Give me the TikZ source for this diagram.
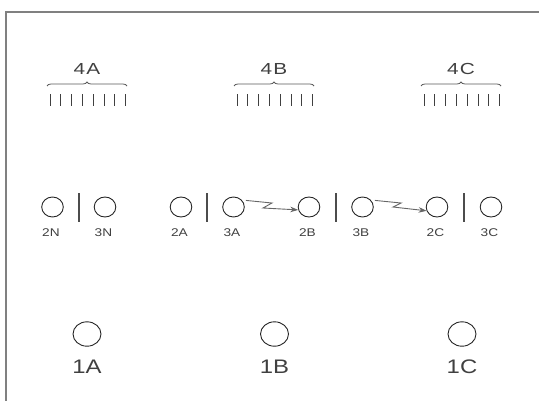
\documentclass[tikz,border=0pt]{standalone}
\usepackage{fontspec}
\setmainfont{Liberation Sans}
\newfontfamily\widesans[FakeStretch=1.22]{Liberation Sans}
\newfontfamily\headsans[FakeStretch=1.3, LetterSpace=8]{Liberation Sans}
\usepackage{tikz}
\usetikzlibrary{arrows.meta,positioning,shapes.geometric,decorations.pathreplacing}

\begin{document}
\begin{tikzpicture}[x=0.5pt, y=-0.5pt, every node/.style={inner sep=1pt}]
        \tikzset{
            ring/.style={draw=black!85, line width=0.45pt, ellipse, inner sep=0pt, minimum width=10.8pt, minimum height=10pt},
            bigring/.style={ring, minimum width=14pt, minimum height=12.2pt},
            tag/.style={text=black!75, text height=4pt, text depth=0pt, font=\widesans\fontsize{5.6}{7}\selectfont},
            bigtag/.style={text=black!75, text height=7pt, text depth=0pt, font=\widesans\fontsize{9.8}{11}\selectfont},
            head/.style={text=black!75, text height=5.7pt, text depth=0pt, font=\headsans\fontsize{8}{9}\selectfont},
            tick/.style={draw=black!75, line width=0.45pt},
            brk/.style={draw=black!65, line width=0.4pt, decorate, decoration={brace, amplitude=2pt}},
            sep/.style={draw=black!70, line width=0.55pt},
            bolt/.style={draw=black!60, line width=0.45pt, -{Stealth[length=4pt, width=2.8pt]}, shorten <=2pt},
            frame/.style={draw=black!50, line width=0.75pt}
        }
        \useasboundingbox (0,0) rectangle (539,401);
        \draw[frame] (539,12) -- (6,12) -- (6,401);
        % bundles on top
        \foreach \x/\n in {50/A, 237/B, 424/C} {
            \node[head] (h\n) at (\x+37,68.5) {4\n};
            \draw[brk] (\x-3,86) -- (\x+77,86);
            \foreach \i in {0,...,7}
                \draw[tick] (\x+\i*10.8,94) -- (\x+\i*10.8,106);
        }
        % middle row
        \node[ring] (c2N) at (52.5,207) {};
        \node[ring] (c3N) at (105,207) {};
        \node[ring] (c2A) at (181,207) {};
        \node[ring] (c3A) at (233.5,207) {};
        \node[ring] (c2B) at (309,207) {};
        \node[ring] (c3B) at (362.5,207) {};
        \node[ring] (c2C) at (437,207) {};
        \node[ring] (c3C) at (491,207) {};
        \foreach \n in {2N,3N,2A,3A,2B,3B,2C,3C}
            \node[tag, below=4.3pt of c\n, xshift=-0.8pt] (t\n) {\n};
        \foreach \x in {79,207,336,464}
            \draw[sep] (\x,193) -- (\x,222);
        \draw[bolt] (c3A.40) -- (272,203) -- (263,208) -- (c2B.195);
        \draw[bolt] (c3B.40) -- (401,203) -- (393,207) -- (c2C.200);
        % bottom row
        \node[bigring] (c1A) at (87,334) {};
        \node[bigring] (c1B) at (274.5,334) {};
        \node[bigring] (c1C) at (462,334) {};
        \foreach \n in {1A,1B,1C}
            \node[bigtag, below=5pt of c\n] (t\n) {\n};
    \end{tikzpicture}
\end{document}
